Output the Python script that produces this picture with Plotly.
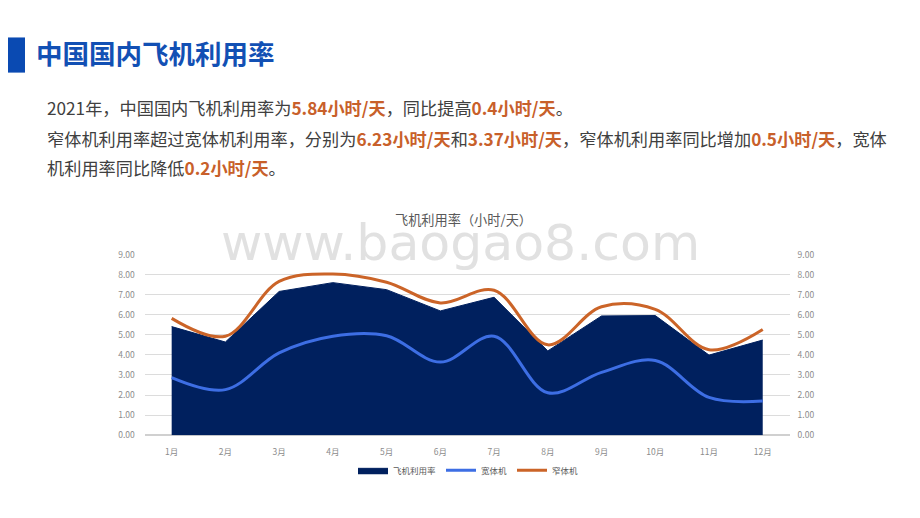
import plotly.graph_objects as go

months = ["1月", "2月", "3月", "4月", "5月", "6月", "7月", "8月", "9月", "10月", "11月", "12月"]
total = [5.41, 4.64, 7.16, 7.60, 7.25, 6.19, 6.87, 4.20, 5.94, 5.96, 3.99, 4.74]
wide = [2.87, 2.27, 4.10, 4.93, 4.95, 3.64, 4.93, 2.11, 3.13, 3.72, 1.88, 1.70]
narrow = [5.82, 4.93, 7.66, 8.03, 7.62, 6.59, 7.22, 4.50, 6.40, 6.27, 4.26, 5.27]
yticks = [0, 1, 2, 3, 4, 5, 6, 7, 8, 9]

NAVY = "#00205e"
BLUE = "#3d6ee4"
ORANGE = "#cb6428"
HI = "#c8602a"
TXT = "#404040"
CJK = "Noto Sans CJK SC"

# the page body adds an 8px margin, so lay out in window pixels minus 8
OFF = 8
W, H = 912, 510


def px(X):
    return (X - OFF) / W


def py(Y):
    return 1 - (Y - OFF) / H


fig = go.Figure()
fig.add_trace(go.Scatter(x=months, y=total, name="飞机利用率", mode="lines",
                         fill="tozeroy", fillcolor=NAVY,
                         line=dict(color=NAVY, width=1)))
fig.add_trace(go.Scatter(x=months, y=wide, name="宽体机", mode="lines", yaxis="y2",
                         line=dict(color=BLUE, width=3, shape="spline", smoothing=1.0)))
fig.add_trace(go.Scatter(x=months, y=narrow, name="窄体机", mode="lines", yaxis="y2",
                         line=dict(color=ORANGE, width=3, shape="spline", smoothing=1.0)))

axis_font = dict(family=CJK, size=8.5, color="#8c8c8c")
fig.update_layout(
    width=W, height=H,
    margin=dict(l=0, r=0, t=0, b=0),
    paper_bgcolor="white", plot_bgcolor="white",
    font=dict(family=CJK, color=TXT),
    xaxis=dict(domain=[px(144.8), px(789.6)], range=[-0.5, 11.5], tickfont=axis_font,
               showgrid=False, showline=False, zeroline=False, ticks="",
               ticklabelstandoff=10),
    yaxis=dict(domain=[py(438.3), py(253.3)], range=[0, 9], tickvals=yticks,
               tickformat=".2f", tickfont=axis_font, showgrid=True, gridcolor="#dcdcdc",
               gridwidth=1, zeroline=True, zerolinecolor="#d0d0d0", showline=False,
               ticklabelstandoff=9),
    yaxis2=dict(overlaying="y", side="right", range=[0, 9], tickvals=yticks,
                tickformat=".2f", tickfont=axis_font, showgrid=False, zeroline=False,
                showline=False, ticklabelstandoff=7),
    legend=dict(orientation="h", x=px(468), xanchor="center", y=py(474.3), yanchor="middle",
                font=dict(family=CJK, size=8.5, color="#595959"), itemwidth=30,
                tracegroupgap=0, bgcolor="rgba(0,0,0,0)"),
    showlegend=True,
)

shapes = [dict(type="rect", xref="paper", yref="paper", x0=0, x1=px(25),
               y0=py(67), y1=py(31), fillcolor="#0a4ab2", line=dict(width=0),
               layer="above")]
fig.update_layout(shapes=shapes)


def hl(s):
    return f"<b><span style='color:{HI}'>{s}</span></b>"


PFS = 17.2
ann = [
    dict(text="www.baogao8.com", x=px(460), y=py(241), xref="paper", yref="paper",
         showarrow=False, font=dict(family="DejaVu Sans", size=50.5, color="rgba(205,205,205,0.6)"),
         xanchor="center", yanchor="middle"),
    dict(text="<b>中国国内飞机利用率</b>", x=px(34), y=py(46.5), xref="paper", yref="paper",
         showarrow=False, font=dict(family=CJK, size=26.5, color="#1250b4"),
         xanchor="left", yanchor="middle"),
    dict(text="2021年，中国国内飞机利用率为" + hl("5.84小时/天") + "，同比提高" + hl("0.4小时/天") + "。",
         x=px(45), y=py(103), xref="paper", yref="paper", showarrow=False,
         font=dict(family=CJK, size=PFS, color=TXT), xanchor="left", yanchor="middle"),
    dict(text="窄体机利用率超过宽体机利用率，分别为" + hl("6.23小时/天") + "和" + hl("3.37小时/天")
         + "，窄体机利用率同比增加" + hl("0.5小时/天") + "，宽体",
         x=px(45), y=py(134), xref="paper", yref="paper", showarrow=False,
         font=dict(family=CJK, size=PFS, color=TXT), xanchor="left", yanchor="middle"),
    dict(text="机利用率同比降低" + hl("0.2小时/天") + "。",
         x=px(45), y=py(164), xref="paper", yref="paper", showarrow=False,
         font=dict(family=CJK, size=PFS, color=TXT), xanchor="left", yanchor="middle"),
    dict(text="飞机利用率（小时/天）", x=px(463), y=py(217), xref="paper", yref="paper",
         showarrow=False, font=dict(family=CJK, size=13.2, color="#595959"),
         xanchor="center", yanchor="middle"),
]
fig.update_layout(annotations=ann)

fig.write_html("out.html")
